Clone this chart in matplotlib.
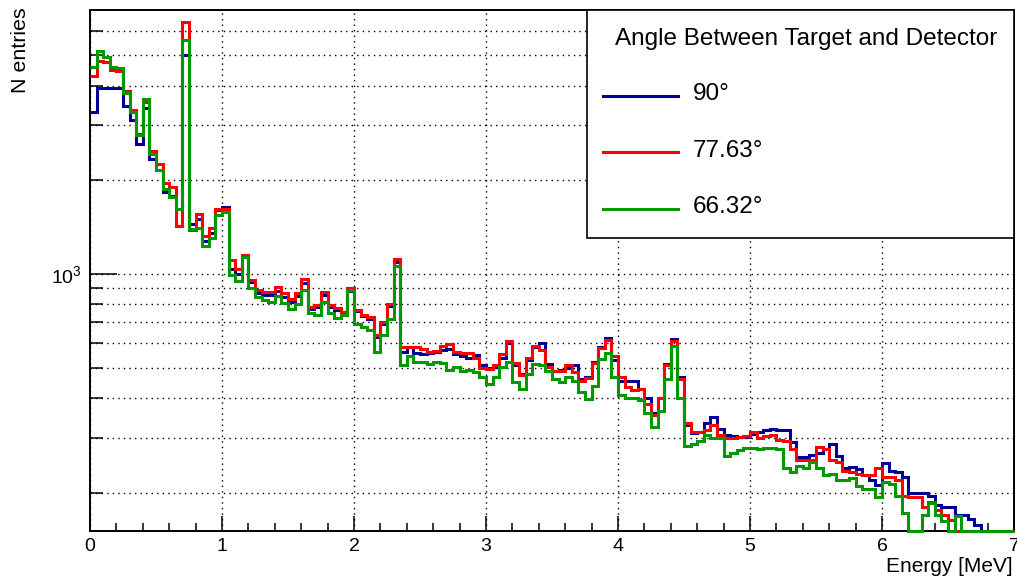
import numpy as np
import matplotlib
matplotlib.use("Agg")
import matplotlib.pyplot as plt
from matplotlib.ticker import MultipleLocator, LogLocator, NullFormatter
from matplotlib.patches import Rectangle
from matplotlib.lines import Line2D

plt.rcParams["font.family"] = ["Liberation Sans", "DejaVu Sans"]

# energy binning [MeV]
e_lo, e_hi, n_bins = 0.0, 7.0, 140

# counts per bin
counts_90 = [
    3300, 3930, 3930, 3950, 3950, 3450, 3100, 2600, 3400, 2330,
    2150, 1830, 1780, 1620, 5000, 1450, 1500, 1280, 1350, 1600,
    1640, 1040, 1000, 1140, 940, 870, 856, 856, 885, 845,
    815, 850, 935, 775, 785, 856, 785, 765, 745, 880,
    760, 735, 720, 630, 690, 790, 1090, 563, 583, 560,
    555, 557, 565, 570, 575, 555, 548, 540, 550, 510,
    500, 503, 540, 600, 510, 480, 530, 585, 600, 515,
    490, 495, 500, 510, 460, 470, 525, 585, 625, 530,
    455, 455, 455, 430, 400, 360, 400, 515, 622, 470,
    330, 310, 312, 335, 348, 320, 305, 303, 302, 302,
    308, 312, 318, 320, 318, 318, 290, 260, 260, 263,
    268, 275, 287, 262, 240, 242, 238, 228, 220, 212,
    248, 235, 232, 225, 200, 200, 200, 195, 182, 180,
    180, 170, 170, 165, 158, 0, 0, 0, 0, 0,
]
counts_7763 = [
    4300, 4800, 4750, 4500, 4450, 3850, 3350, 2800, 3550, 2480,
    2250, 1950, 1900, 1420, 6400, 1380, 1560, 1320, 1400, 1620,
    1620, 1110, 1040, 1150, 960, 889, 877, 877, 910, 870,
    835, 870, 965, 785, 795, 877, 795, 778, 757, 900,
    767, 740, 730, 640, 700, 800, 1120, 585, 585, 585,
    575, 565, 568, 590, 598, 565, 560, 557, 540, 500,
    498, 510, 555, 612, 520, 475, 540, 588, 570, 505,
    490, 490, 510, 485, 455, 465, 520, 580, 615, 545,
    470, 435, 425, 430, 385, 355, 400, 510, 610, 460,
    335, 313, 312, 318, 328, 305, 298, 300, 302, 304,
    312, 298, 303, 305, 295, 293, 275, 255, 255, 255,
    280, 275, 255, 250, 235, 232, 230, 228, 228, 240,
    224, 224, 219, 195, 193, 193, 180, 186, 176, 170,
    163, 145, 0, 0, 0, 0, 0, 0, 0, 0,
]
counts_6632 = [
    4600, 5150, 4950, 4600, 4550, 3800, 3300, 2780, 3640, 2420,
    2150, 1870, 1760, 1620, 5600, 1390, 1400, 1230, 1300, 1550,
    1580, 990, 950, 1130, 900, 845, 825, 815, 850, 807,
    775, 800, 889, 750, 740, 815, 750, 723, 740, 890,
    690, 678, 661, 565, 640, 720, 1060, 510, 545, 525,
    525, 517, 525, 520, 495, 505, 490, 495, 485, 470,
    445, 470, 505, 525, 450, 428, 480, 515, 510, 490,
    460, 450, 470, 455, 420, 398, 440, 535, 560, 470,
    410, 402, 400, 395, 360, 325, 365, 460, 590, 400,
    282, 287, 292, 305, 300, 298, 262, 268, 273, 277,
    277, 275, 277, 277, 276, 240, 233, 243, 240, 250,
    240, 228, 230, 220, 220, 222, 210, 205, 205, 193,
    216, 213, 195, 172, 140, 130, 170, 185, 170, 162,
    140, 168, 0, 0, 0, 0, 0, 0, 0, 0,
]

labels = ["90°", "77.63°", "66.32°"]
colors = ["#000099", "#ff0000", "#009900"]
legend_title = "Angle Between Target and Detector"

y_min, y_max = 150.7, 6990

W, H = 1017, 580
fig = plt.figure(figsize=(W / 100, H / 100), dpi=100)
ax = fig.add_axes([90 / W, 49 / H, 924 / W, 521 / H])

edges = np.linspace(e_lo, e_hi, n_bins + 1)
for vals, col in zip([counts_90, counts_7763, counts_6632], colors):
    v = np.maximum(np.array(vals, dtype=float), y_min)
    ax.stairs(v, edges, baseline=None, color=col, lw=2.2, clip_on=False, zorder=3)

ax.set_xlim(e_lo, e_hi)
ax.set_yscale("log")
ax.set_ylim(y_min, y_max)

ax.xaxis.set_major_locator(MultipleLocator(1))
ax.xaxis.set_minor_locator(MultipleLocator(0.2))
ax.yaxis.set_major_locator(LogLocator(base=10))
ax.yaxis.set_minor_locator(LogLocator(base=10, subs=np.arange(2, 10)))
ax.yaxis.set_minor_formatter(NullFormatter())

for s in ax.spines.values():
    s.set_linewidth(1.4)

ax.tick_params(axis="x", which="major", direction="in", length=11, width=1.1,
               labelsize=14, pad=5, top=False)
ax.tick_params(axis="x", which="minor", direction="in", length=5.5, width=1.1, top=False)
ax.tick_params(axis="y", which="major", direction="in", length=19.5, width=1.1,
               labelsize=14, pad=6, right=False)
ax.tick_params(axis="y", which="minor", direction="in", length=9.7, width=1.1, right=False)

dots = (0, (1, 3))
ax.grid(True, axis="x", which="major", color="black", linestyle=dots, linewidth=1)
ax.grid(True, axis="y", which="both", color="black", linestyle=dots, linewidth=1)

# axis titles, ROOT style
fig.text(20 / W, 1 - 7 / H, "N entries", rotation=90, ha="center", va="top", fontsize=15.4)
fig.text(1013 / W, 1 - 572 / H, "Energy [MeV]", ha="right", va="baseline", fontsize=15)

# legend box
box = Rectangle((587 / W, 1 - 238 / H), 427 / W, 228 / H, transform=fig.transFigure,
                facecolor="white", edgecolor="black", lw=1.2, zorder=10)
fig.add_artist(box)
fig.text(806 / W, 1 - 45 / H, legend_title, ha="center", va="baseline", fontsize=17.5, zorder=11)
line_y = [96, 152, 209]
text_y = [100, 157, 213]
for lab, col, ly, ty in zip(labels, colors, line_y, text_y):
    fig.add_artist(Line2D([603 / W, 678 / W], [1 - ly / H, 1 - ly / H],
                          transform=fig.transFigure, color=col, lw=2.2, zorder=11))
    fig.text(693 / W, 1 - ty / H, lab, ha="left", va="baseline", fontsize=17.5, zorder=11)

fig.savefig("out.png", dpi=100)
